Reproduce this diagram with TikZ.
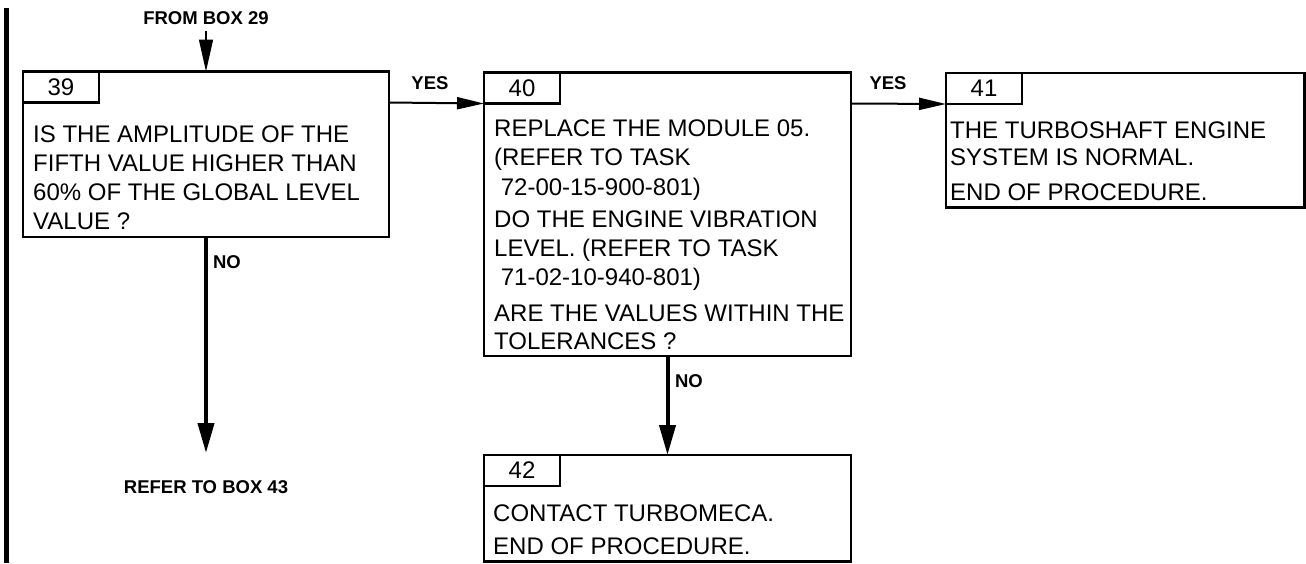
\documentclass[tikz,border=0pt]{standalone}
\usepackage{fontspec}
\setmainfont{Liberation Sans}
\usetikzlibrary{arrows.meta}
\begin{document}
\begin{tikzpicture}[x=1pt,y=-1pt,
 box/.style={draw, line width=2.5pt, rectangle, outer sep=0pt, inner sep=0pt, anchor=north west},
 tab/.style={box, minimum width=76pt, minimum height=31pt, font=\fontsize{24}{28}\selectfont},
 txt/.style={anchor=base west, inner sep=0pt, font=\fontsize{24}{28}\selectfont},
 lbl/.style={inner sep=0pt, font=\fontsize{18.5}{22}\selectfont\bfseries},
 yesarrow/.style={line width=2pt, -{Triangle[length=27pt,width=12pt]}},
 noarrow/.style={line width=4pt, -{Triangle[length=30pt,width=16pt]}},
 inarrow/.style={line width=1.5pt, -{Triangle[length=32pt,width=14pt]}}]
\useasboundingbox (0,0) rectangle (1306,563);

% left margin bar
\draw[line width=4.5pt] (6.5,8) -- (6.5,563);

% boxes
\node[box, minimum width=366pt, minimum height=165.5pt] (b39) at (23,71.5) {};
\node[tab] (t39) at (23,71.5) {39};
\node[box, minimum width=367pt, minimum height=283.5pt] (b40) at (484,72.5) {};
\node[tab] (t40) at (484,72.5) {40};
\node[box, minimum width=358.5pt, minimum height=134.5pt] (b41) at (946,73) {};
\node[tab] (t41) at (946,73) {41};
\node[box, minimum width=367pt, minimum height=106.5pt] (b42) at (484,455) {};
\node[tab] (t42) at (484,455) {42};

% box 39 text
\node[txt] (l39a) at (33,142.7) {IS THE AMPLITUDE OF THE};
\node[txt] (l39b) at (33,171.6) {FIFTH VALUE HIGHER THAN};
\node[txt] (l39c) at (33,200.2) {60\% OF THE GLOBAL LEVEL};
\node[txt] (l39d) at (33,229.2) {VALUE ?};

% box 40 text
\node[txt] (l40a) at (494,136.6) {REPLACE THE MODULE 05.};
\node[txt] (l40b) at (494,165.8) {(REFER TO TASK};
\node[txt] (l40c) at (494,195) {\ 72-00-15-900-801)};
\node[txt] (l40d) at (494,227.2) {DO THE ENGINE VIBRATION};
\node[txt] (l40e) at (494,256.5) {LEVEL. (REFER TO TASK};
\node[txt] (l40f) at (494,285) {\ 71-02-10-940-801)};
\node[txt] (l40g) at (494,321.5) {ARE THE VALUES WITHIN THE};
\node[txt] (l40h) at (494,349.8) {TOLERANCES ?};

% box 41 text
\node[txt] (l41a) at (950,138.4) {THE TURBOSHAFT ENGINE};
\node[txt] (l41b) at (950,165.7) {SYSTEM IS NORMAL.};
\node[txt] (l41c) at (950,200.7) {END OF PROCEDURE.};

% box 42 text
\node[txt] (l42a) at (493,521.7) {CONTACT TURBOMECA.};
\node[txt] (l42b) at (493,554.2) {END OF PROCEDURE.};

% labels
\node[lbl] (from29) at (206,18.5) {FROM BOX 29};
\node[lbl] (yes1) at (430,83) {YES};
\node[lbl] (yes2) at (888,83) {YES};
\node[lbl] (no1) at (227,262) {NO};
\node[lbl] (no2) at (689,381) {NO};
\node[lbl] (ref43) at (206,487) {REFER TO BOX 43};
\coordinate (end39) at (206,453);
\coordinate (start29) at (206,31);

% connectors
\draw[inarrow] (start29) -- (b39.north);
\draw[yesarrow] (t39.south -| b39.east) -- (t40.south west);
\draw[yesarrow] (t40.south -| b40.east) -- (t41.south west);
\draw[noarrow] (b39.south) -- (end39);
\draw[noarrow] (b40.south) -- (b42.north);
\end{tikzpicture}
\end{document}
